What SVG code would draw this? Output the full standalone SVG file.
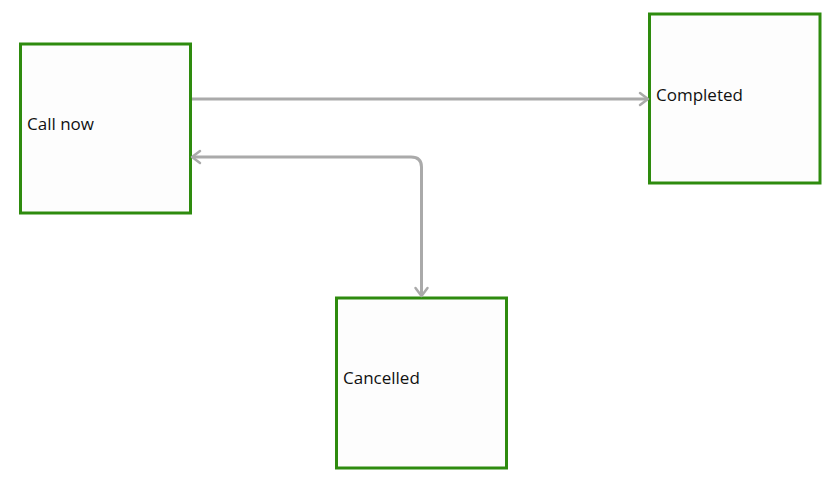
<svg xmlns="http://www.w3.org/2000/svg" width="835" height="486" viewBox="0 0 835 486">
<style>
.node{fill:#fdfdfd;stroke:#2e8b0e;stroke-width:3}
.lbl{font-family:"Open Sans","Noto Sans",sans-serif;font-size:17px;fill:#111}
.edge{fill:none;stroke:#aaaaaa;stroke-width:3}
.head{fill:none;stroke:#aaaaaa;stroke-width:2.5;stroke-linecap:round;stroke-linejoin:round}
</style>
<rect width="835" height="486" fill="#ffffff"/>
<g id="node-callnow"><rect class="node" x="20.5" y="44" width="170" height="169"/><text class="lbl" x="27" y="130">Call now</text></g>
<g id="node-completed"><rect class="node" x="649.5" y="14" width="170.5" height="169"/><text class="lbl" x="656" y="101">Completed</text></g>
<g id="node-cancelled"><rect class="node" x="336.5" y="298" width="170" height="170"/><text class="lbl" x="343" y="384">Cancelled</text></g>
<g id="connectors">
<path class="edge" d="M192,99 H648"/>
<path class="head" d="M640,93 L648,99 L640,105"/>
<path class="edge" d="M193,157 H411 Q421.5,157 421.5,167 V295"/>
<path class="head" d="M200,151 L192,157 L200,163"/>
<path class="head" d="M415.5,288 L421.5,296 L427.5,288"/>
</g>
</svg>
